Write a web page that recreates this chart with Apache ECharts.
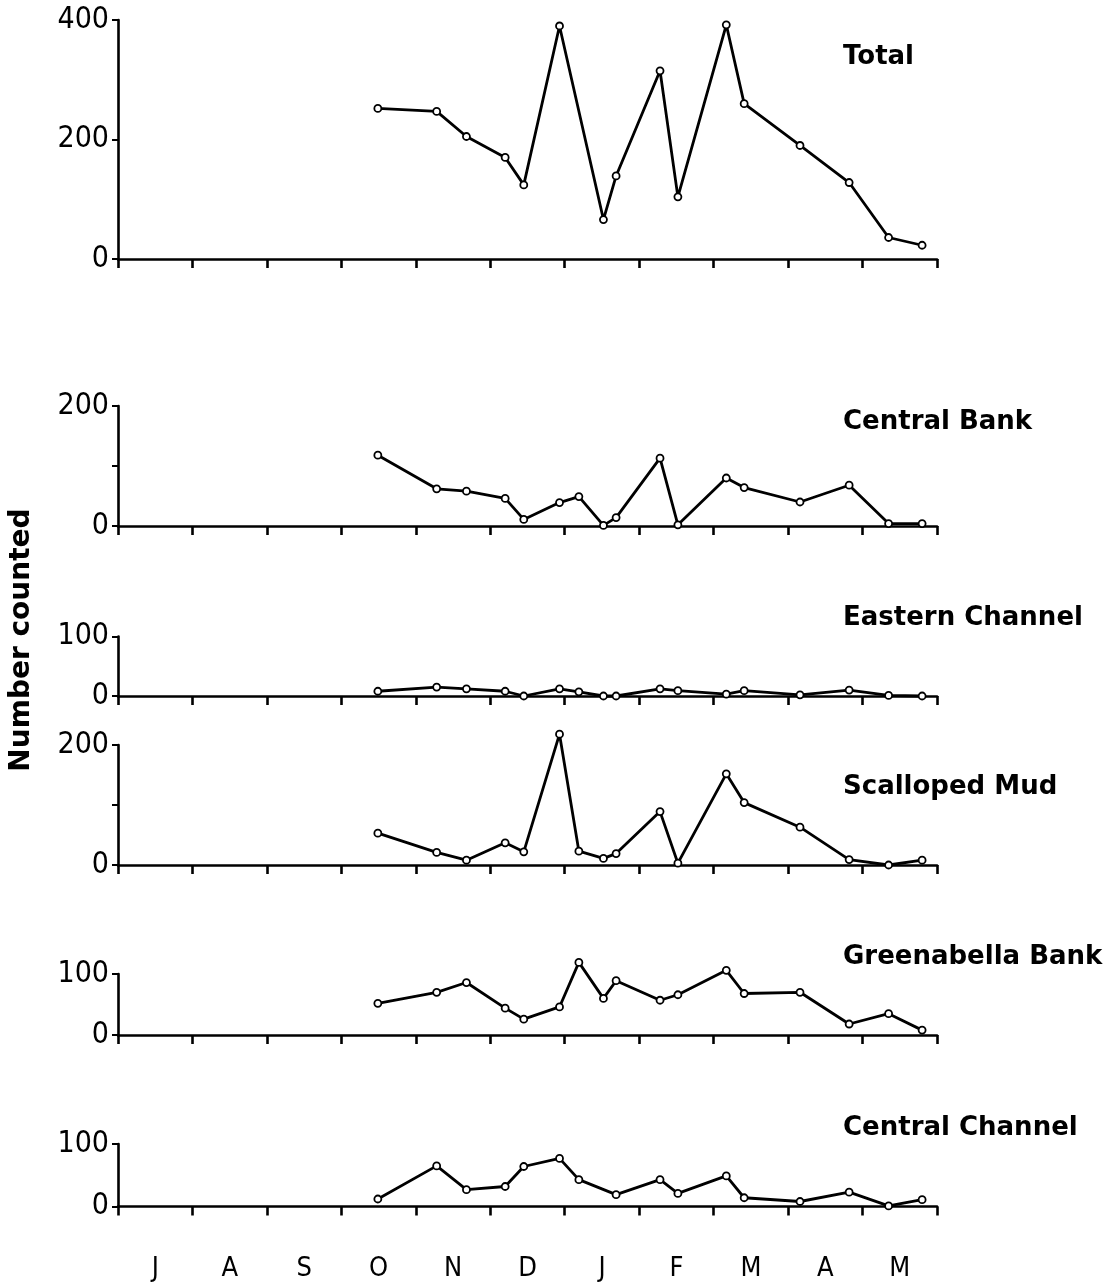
<!DOCTYPE html>
<html>
<head>
<meta charset="utf-8">
<script src="https://cdn.jsdelivr.net/npm/echarts@6/dist/echarts.min.js"></script>
<style>
  html, body { margin: 0; padding: 0; background: #fff; }
  #chart { width: 1119px; height: 1288px; }
</style>
</head>
<body>
<div id="chart"></div>
<script>
// ---- data (months since 1 July; J A S O N D J F M A M) ----
const monthLabels = ['J', 'A', 'S', 'O', 'N', 'D', 'J', 'F', 'M', 'A', 'M'];
const sampleMonths = [3.49, 4.28, 4.68, 5.20, 5.45, 5.93, 6.19, 6.52, 6.69, 7.28, 7.52, 8.17, 8.41, 9.16, 9.82, 10.35, 10.80];

const totalCounts        = [252, 247, 205, 170, 124, 390, null, 66, 139, 315, 104, 392, 260, 190, 128, 36, 23];
const centralBankCounts  = [118, 62, 58, 46, 11, 39, 49, 1, 14, 113, 2, 80, 64, 40, 68, 4, 4];
const easternChanCounts  = [8, 15, 12, 8, 0, 12, 7, 0, 0, 12, 9, 3, 9, 2, 10, 1, 0];
const scallopedMudCounts = [53, 21, 8, 37, 22, 218, 23, 11, 19, 89, 3, 152, 104, 63, 9, 0, 8];
const greenabellaCounts  = [52, 70, 86, 44, 26, 46, 119, 60, 89, 57, 66, 106, 68, 70, 18, 35, 8];
const centralChanCounts  = [12, 65, 27, 32, 64, 77, 43, null, 19, 43, 21, 49, 14, 8, 23, 1, 11];

const panelNames  = ['Total', 'Central Bank', 'Eastern Channel', 'Scalloped Mud', 'Greenabella Bank', 'Central Channel'];
const panelSeries = [totalCounts, centralBankCounts, easternChanCounts, scallopedMudCounts, greenabellaCounts, centralChanCounts];
const panelMax    = [400, 200, 100, 200, 100, 100];
const panelStep   = [200, 100, 100, 100, 100, 100];
const labelledTicks = [[0, 200, 400], [0, 200], [0, 100], [0, 200], [0, 100], [0, 100]];
const yAxisTitle = 'Number counted';

// ---- layout ----
const gridTop    = [20, 406, 636.5, 745, 974, 1144];
const gridHeight = [239, 120, 59.5, 120, 61, 62.5];
const titleY     = [57, 422, 618, 787, 957, 1128];
const gridLeft = 118, gridWidth = 819;

const chart = echarts.init(document.getElementById('chart'), null, { renderer: 'canvas' });

const grids = [], xAxes = [], yAxes = [], series = [], graphics = [];
const axisLineStyle = { color: '#000', width: 2.6 };
const numFont = '"DejaVu Sans Condensed", "Liberation Sans Narrow", sans-serif';
const titleFont = '"DejaVu Sans", "Liberation Sans", sans-serif';

panelNames.forEach((name, i) => {
  grids.push({ left: gridLeft, width: gridWidth, top: gridTop[i], height: gridHeight[i], outerBoundsMode: 'none', containLabel: false });
  xAxes.push({
    type: 'value', gridIndex: i, min: 0, max: 11, interval: 1,
    axisLine: { show: true, lineStyle: axisLineStyle, onZero: false },
    axisTick: { show: true, inside: false, length: 9, lineStyle: { color: '#000', width: 2.6 } },
    axisLabel: { show: false },
    splitLine: { show: false }
  });
  const lab = labelledTicks[i];
  yAxes.push({
    type: 'value', gridIndex: i, min: 0, max: panelMax[i], interval: panelStep[i],
    axisLine: { show: true, lineStyle: axisLineStyle },
    axisTick: { show: true, inside: false, length: 6, lineStyle: { color: '#000', width: 2 } },
    axisLabel: {
      show: true, margin: 9, color: '#000', fontSize: 30, fontFamily: numFont,
      formatter: v => (lab.indexOf(v) >= 0 ? String(v) : '')
    },
    splitLine: { show: false }
  });
  const vals = panelSeries[i];
  series.push({
    type: 'line', xAxisIndex: i, yAxisIndex: i, name: name,
    data: sampleMonths.map((m, k) => [m, vals[k]]).filter(p => p[1] !== null),
    symbol: 'circle', symbolSize: 7,
    lineStyle: { color: '#000', width: 2.8 },
    itemStyle: { color: '#fff', borderColor: '#000', borderWidth: 1.8 },
    silent: true, clip: false
  });
  graphics.push({
    type: 'text', x: 843, y: titleY[i],
    style: { text: name, fill: '#000', font: 'bold 26px ' + titleFont, align: 'left', verticalAlign: 'middle', textAlign: 'left', textVerticalAlign: 'middle' }
  });
});

// month labels under the bottom panel
xAxes.push({
  type: 'category', gridIndex: 5, position: 'bottom', data: monthLabels, boundaryGap: true,
  axisLine: { show: false }, axisTick: { show: false }, splitLine: { show: false },
  axisLabel: { show: true, margin: 49, color: '#000', fontSize: 27, fontFamily: numFont, interval: 0 }
});

graphics.push({
  type: 'text', x: 22, y: 640, rotation: Math.PI / 2,
  style: { text: yAxisTitle, fill: '#000', font: 'bold 28px ' + titleFont, align: 'center', verticalAlign: 'middle', textAlign: 'center', textVerticalAlign: 'middle' }
});

chart.setOption({
  animation: false,
  backgroundColor: '#fff',
  grid: grids,
  xAxis: xAxes,
  yAxis: yAxes,
  series: series,
  graphic: graphics
});
</script>
</body>
</html>
